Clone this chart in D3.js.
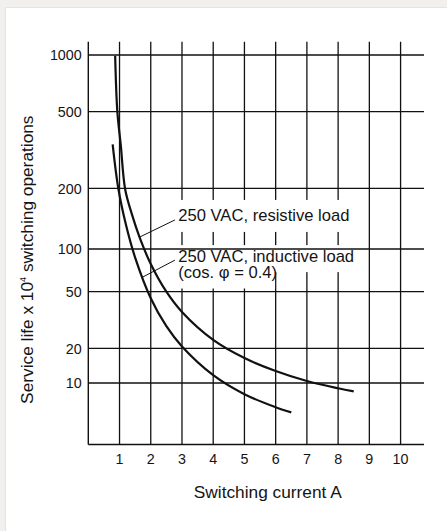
<!DOCTYPE html>
<html>
<head>
<meta charset="utf-8">
<script src="https://cdn.jsdelivr.net/npm/d3@7"></script>
<style>
  body { margin: 0; background: #f2f0ee; }
  svg { display: block; }
  text { font-family: "Liberation Sans", Arial, sans-serif; fill: #141414; }
</style>
</head>
<body>
<svg></svg>
<script>
// values
var xTicks = [1, 2, 3, 4, 5, 6, 7, 8, 9, 10];
var yTicks = [10, 20, 50, 100, 200, 500, 1000];

var resistiveX = [0.86, 0.93, 1.04, 1.18, 1.4, 1.64, 2, 2.5, 3, 4, 5, 6, 7, 8, 8.5];
var resistiveY = [990, 500, 335, 198, 148, 114.5, 78.4, 50, 36, 22.9, 16.45, 12.7, 10.4, 9.0, 8.47];

var inductiveX = [0.78, 0.96, 1.2, 1.5, 2, 2.5, 3, 4, 5, 6, 6.5];
var inductiveY = [338, 200, 133, 87, 45, 28.6, 20.6, 11.7, 8.0, 6.17, 5.56];

var xTitle = "Switching current A";

var labels = [
  {lines: ["250 VAC, resistive load"], at: [1.64, 114.5], textAt: [2.88, 137], padTop: 6.5},
  {lines: ["250 VAC, inductive load", "(cos. \u03c6 = 0.4)"], at: [1.72, 63], textAt: [2.88, 81.5], padTop: 1.5}
];

var W = 447, H = 531;
var margin = {top: 41.7, right: 23, bottom: 86.5, left: 88.3},
    width = W - margin.left - margin.right,
    height = H - margin.top - margin.bottom;

// the printed value axis is not evenly logarithmic, so the scale is piecewise
var yTickPos = [341.3, 306.6, 250, 207.3, 146.6, 70, 13.3];

var svg = d3.select("svg").attr("width", W).attr("height", H);

svg.append("rect").attr("x", 0).attr("y", 0).attr("width", W).attr("height", H).attr("fill", "#f2f0ee");
svg.append("rect").attr("x", 5.5).attr("y", 7.5).attr("width", W).attr("height", H)
    .attr("fill", "#fff").attr("stroke", "#e7e4e0");

var g = svg.append("g").attr("transform", "translate(" + margin.left + "," + margin.top + ")");

var xScale = d3.scaleLinear().domain([0, 10.75]).range([0, width]);
var yScale = d3.scaleLog().domain(yTicks).range(yTickPos);

var ink = "#111";

// vertical grid
g.append("g").selectAll("line")
  .data(xTicks).enter().append("line")
    .attr("x1", function(d) { return xScale(d); })
    .attr("x2", function(d) { return xScale(d); })
    .attr("y1", 0).attr("y2", height)
    .attr("stroke", ink).attr("stroke-width", 1.3);

// white boxes behind the annotations cut the vertical grid
var knock = g.append("g");

// horizontal grid
g.append("g").selectAll("line")
  .data(yTicks).enter().append("line")
    .attr("x1", 0).attr("x2", width)
    .attr("y1", function(d) { return yScale(d); })
    .attr("y2", function(d) { return yScale(d); })
    .attr("stroke", ink).attr("stroke-width", 1.3);

// axes
g.append("line").attr("x1", 0).attr("x2", 0).attr("y1", 0).attr("y2", height)
  .attr("stroke", ink).attr("stroke-width", 1.4);
g.append("line").attr("x1", 0).attr("x2", width).attr("y1", height).attr("y2", height)
  .attr("stroke", ink).attr("stroke-width", 1.4);

// tick labels
g.append("g").selectAll("text")
  .data(yTicks).enter().append("text")
    .attr("x", -6.6)
    .attr("y", function(d) { return yScale(d) + 5.3; })
    .attr("text-anchor", "end")
    .style("font-size", "14.3px")
    .text(function(d) { return d; });

g.append("g").selectAll("text")
  .data(xTicks).enter().append("text")
    .attr("x", function(d) { return xScale(d); })
    .attr("y", height + 19.5)
    .attr("text-anchor", "middle")
    .style("font-size", "14.3px")
    .text(function(d) { return d; });

// curves
var line = d3.line()
    .x(function(d) { return xScale(d[0]); })
    .y(function(d) { return yScale(d[1]); })
    .curve(d3.curveCatmullRom.alpha(0.5));

[[resistiveX, resistiveY], [inductiveX, inductiveY]].forEach(function(s) {
  var pts = s[0].map(function(x, i) { return [x, s[1][i]]; });
  g.append("path")
    .datum(pts)
    .attr("d", line)
    .attr("fill", "none")
    .attr("stroke", ink)
    .attr("stroke-width", 2.2);
});

// annotations
labels.forEach(function(lb) {
  var tx = xScale(lb.textAt[0]), ty = yScale(lb.textAt[1]);
  var t = g.append("text").style("font-size", "16.6px");
  lb.lines.forEach(function(str, i) {
    var ts = t.append("tspan")
      .attr("x", tx)
      .attr("y", ty + i * 16.4)
      .text(str);
    var b = ts.node().getBBox();
    knock.append("rect")
      .attr("x", b.x - 3)
      .attr("y", b.y - (i === 0 ? lb.padTop : 0))
      .attr("width", b.width + 1)
      .attr("height", b.height + 6.5 + (i === 0 ? lb.padTop : 0))
      .attr("fill", "#fff");
  });
  g.append("line")
    .attr("x1", tx - 3.3).attr("y1", ty - 1.5)
    .attr("x2", xScale(lb.at[0])).attr("y2", yScale(lb.at[1]))
    .attr("stroke", ink).attr("stroke-width", 1);
});

// axis titles
svg.append("text")
  .attr("x", 267.8).attr("y", 497.5)
  .attr("text-anchor", "middle")
  .style("font-size", "17.3px")
  .text(xTitle);

var yt = svg.append("text")
  .attr("transform", "translate(32.5,259.7) rotate(-90)")
  .attr("text-anchor", "middle")
  .style("font-size", "17.3px");
yt.append("tspan").text("Service life x 10");
yt.append("tspan").attr("dy", -7).style("font-size", "9px").text("4");
yt.append("tspan").attr("dy", 7).text(" switching operations");
</script>
</body>
</html>
